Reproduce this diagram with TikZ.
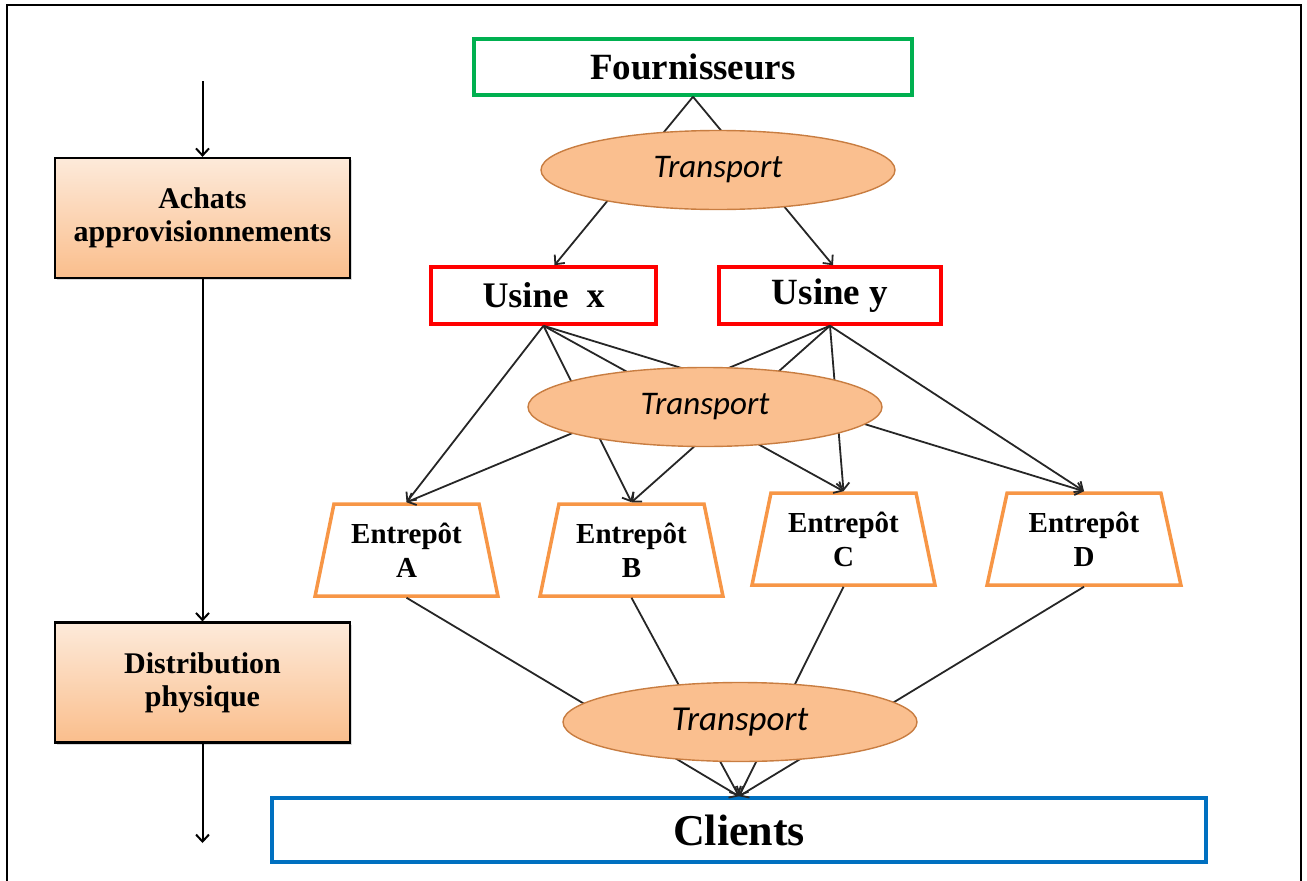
\documentclass[tikz,border=0pt]{standalone}
\usepackage{fontspec}
\setmainfont{Liberation Serif}
\newfontfamily\transfont{Carlito}
\usepackage{tikz}
\usetikzlibrary{arrows.meta}
\usetikzlibrary{shapes}
\usetikzlibrary{shadows}

\definecolor{fgreen}{RGB}{0,176,80}
\definecolor{ured}{RGB}{255,0,0}
\definecolor{eorange}{RGB}{247,150,70}
\definecolor{tfill}{RGB}{250,191,143}
\definecolor{tline}{RGB}{200,125,65}
\definecolor{cblue}{RGB}{0,112,192}
\definecolor{ptop}{RGB}{253,234,218}
\definecolor{pbot}{RGB}{250,190,140}

\begin{document}
\begin{tikzpicture}[x=1pt,y=-1pt,->,>={Straight Barb[length=7pt,width=13pt]},line width=1.8pt,draw=black!85,
  box/.style={draw,line width=3.5pt,fill=white,font=\bfseries},
  depot/.style={draw=eorange,line width=3.5pt,fill=white,trapezium,trapezium left angle=76,
    trapezium right angle=76,trapezium stretches=true,minimum width=183pt,minimum height=92pt,
    align=center,font=\fontsize{29}{34}\selectfont\bfseries},
  transport/.style={ellipse,draw=tline,line width=1.4pt,fill=tfill,minimum width=354pt,minimum height=79pt,
    font=\fontsize{33}{36}\selectfont\transfont\itshape},
  activity/.style={draw=black,line width=2.2pt,top color=ptop,bottom color=pbot,minimum width=295pt,minimum height=120pt,
    align=center,font=\fontsize{30}{33}\selectfont\bfseries,
    drop shadow={shadow xshift=2pt,shadow yshift=-2pt,opacity=.3}}]
  \useasboundingbox (0,0) rectangle (1307,881);
  \draw[-,draw=black,line width=1.6pt] (7,881) |- (1301,5) -- (1301,881);

  \node[box,draw=fgreen,minimum width=438pt,minimum height=56pt,font=\fontsize{37}{40}\selectfont\bfseries] (f) at (693,67) {Fournisseurs};
  \node[box,draw=ured,minimum width=225pt,minimum height=57pt,font=\fontsize{36}{40}\selectfont\bfseries] (ux) at (543.5,295.5) {Usine~ x};
  \node[box,draw=ured,minimum width=222pt,minimum height=57pt,font=\fontsize{37}{40}\selectfont\bfseries] (uy) at (830,295.5) {Usine y};

  \node[depot] (ea) at (406.5,550) {Entrep\^ot\\A};
  \node[depot] (eb) at (631.5,550) {Entrep\^ot\\B};
  \node[depot] (ec) at (843.5,539) {Entrep\^ot\\C};
  \node[depot,minimum width=194pt] (ed) at (1084,539) {Entrep\^ot\\D};

  \node[box,draw=cblue,minimum width=934pt,minimum height=64pt,font=\fontsize{44}{46}\selectfont\bfseries] (c) at (739,830) {Clients};

  \node[activity] (achats) at (202.5,218) {Achats\\approvisionnements};
  \node[activity] (distrib) at (202.5,682.5) {Distribution\\physique};
  \coordinate (in) at (202.5,81);
  \coordinate (out) at (202.5,843);

  \path[every edge/.append style={draw=black,line width=2pt}]
        (in) edge (achats)
        (achats) edge (distrib)
        (distrib) edge (out);

  \path (f.south) edge ([xshift=11pt]ux.north)
        (f.south) edge ([xshift=3pt]uy.north);

  \path (ux.south) edge (ea.north)
        (ux.south) edge (eb.north)
        (ux.south) edge (ec.north)
        (ux.south) edge (ed.north)
        (uy.south) edge (ea.north)
        (uy.south) edge (eb.north)
        (uy.south) edge (ec.north)
        (uy.south) edge (ed.north);

  \path (ea.south) edge (c.north)
        (eb.south) edge (c.north)
        (ec.south) edge (c.north)
        (ed.south) edge (c.north);

  \node[transport] (t1) at (718,170) {Transport};
  \node[transport] (t2) at (705,407) {Transport};
  \node[transport,font=\fontsize{35}{38}\selectfont\transfont\itshape] (t3) at (740,722) {Transport};
\end{tikzpicture}
\end{document}
